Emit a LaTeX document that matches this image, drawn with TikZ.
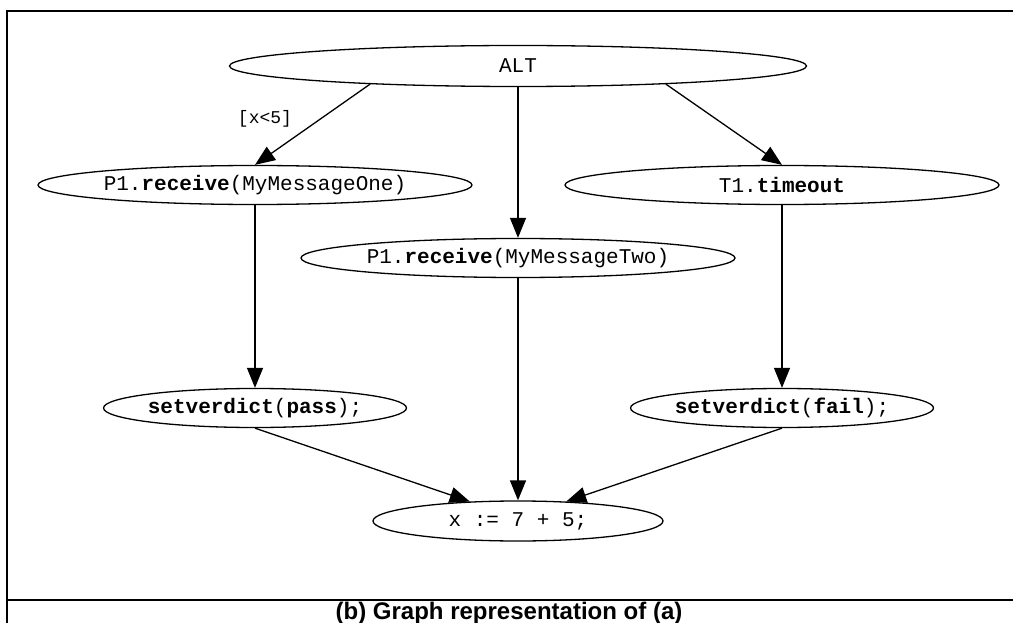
\documentclass[tikz,border=0pt]{standalone}
\usepackage{fontspec}
\setmainfont{Liberation Sans}
\setmonofont{Liberation Mono}
\usetikzlibrary{shapes.geometric,arrows.meta}
\begin{document}
\begin{tikzpicture}[x=1pt,y=-1pt,
  state/.style={ellipse, draw, line width=1.3pt, inner sep=0pt,
    minimum height=39pt, font=\ttfamily\fontsize{21}{24}\selectfont},
  edge/.style={line width=1.3pt, -{Triangle[length=20pt,width=16pt]}},
  frame/.style={line width=2.5pt},
  guard/.style={font=\ttfamily\fontsize{18}{22}\selectfont},
  caption/.style={font=\bfseries\fontsize{24}{28}\selectfont}
]
\useasboundingbox (0,0) rectangle (1013,623);
% outer frame and caption rule
\draw[frame] (1030,11) -- (7,11) -- (7,640);
\draw[frame] (7,600) -- (1030,600);

% nodes of the graph
\node[state, minimum width=577pt, minimum height=41pt] (alt) at (518,66) {ALT};
\node[state, minimum width=434pt] (one) at (255,185) {P1.\textbf{receive}(MyMessageOne)};
\node[state, minimum width=434pt] (tmo) at (782,185) {T1.\textbf{timeout}};
\node[state, minimum width=434pt] (two) at (518,258) {P1.\textbf{receive}(MyMessageTwo)};
\node[state, minimum width=290pt] (pass) at (255,408) {\textbf{setverdict}(\textbf{pass});};
\node[state, minimum width=290pt] (fail) at (782,408) {\textbf{setverdict}(\textbf{fail});};
\node[state, minimum width=290pt, minimum height=40pt] (asg) at (518,521) {x := 7 + 5;};

% connectors
\draw[edge] (alt.-173) -- (one.north);
\node[guard] (g) at (265,119) {[x<5]};
\draw[edge] (alt.south) -- (two.north);
\draw[edge] (alt.-7) -- (tmo.north);
\draw[edge] (one.south) -- (pass.north);
\draw[edge] (tmo.south) -- (fail.north);
\draw[edge] (two.south) -- (asg.north);
\draw[edge] (pass.south) -- (asg.158);
\draw[edge] (fail.south) -- (asg.22);

\node[caption] (cap) at (509,613) {(b) Graph representation of (a)};
\end{tikzpicture}
\end{document}
